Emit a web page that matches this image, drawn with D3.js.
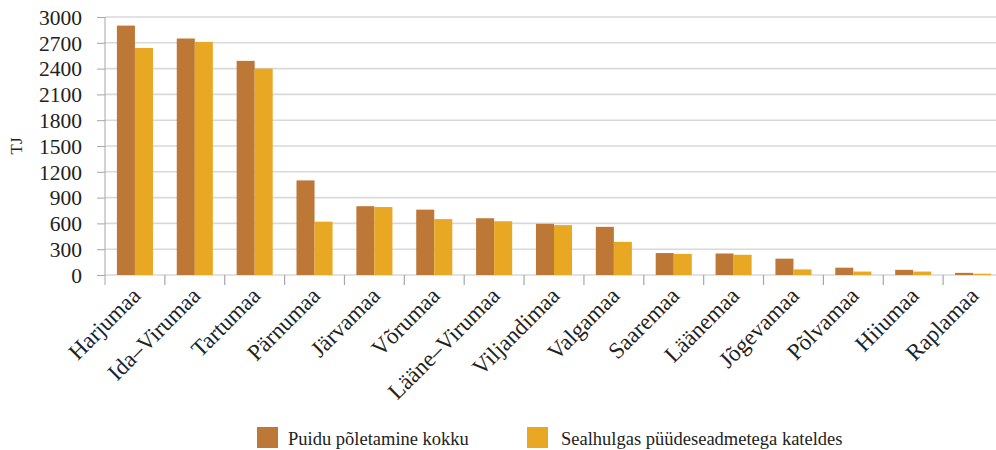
<!DOCTYPE html>
<html>
<head>
<meta charset="utf-8">
<script src="https://cdn.jsdelivr.net/npm/d3@7"></script>
<style>
  body { margin: 0; background: #fff; }
  svg text { font-family: 'Liberation Serif', 'Times New Roman', serif; fill: #222; }
</style>
</head>
<body>
<div id="chart"></div>
<script>
const counties = ['Harjumaa', 'Ida-Virumaa', 'Tartumaa', 'Pärnumaa', 'Järvamaa', 'Võrumaa',
  'Lääne-Virumaa', 'Viljandimaa', 'Valgamaa', 'Saaremaa', 'Läänemaa', 'Jõgevamaa',
  'Põlvamaa', 'Hiiumaa', 'Raplamaa'];
const seriesNames = ['Puidu põletamine kokku', 'Sealhulgas püüdeseadmetega kateldes'];
const totalBurned = [2900, 2750, 2490, 1100, 800, 760, 660, 595, 560, 255, 250, 190, 85, 60, 25];
const withFilters = [2640, 2710, 2400, 620, 790, 650, 625, 580, 385, 245, 235, 65, 40, 40, 15];
const yTicks = [0, 300, 600, 900, 1200, 1500, 1800, 2100, 2400, 2700, 3000];
const colors = ['#bd7736', '#e9a823'];

const size = { width: 996, height: 450 };
const margin = { left: 105, top: 17, right: -7, bottom: 175 };
const serif = "'Liberation Serif', 'Times New Roman', serif";

const svg = d3.select('#chart').append('svg')
  .attr('width', size.width)
  .attr('height', size.height)
  .attr('font-family', serif);

const x = d3.scaleBand()
  .domain(counties)
  .range([margin.left, size.width - margin.right])
  .padding(0);

const x1 = d3.scaleBand()
  .domain(seriesNames)
  .range([0, x.bandwidth()])
  .paddingInner(0)
  .paddingOuter(0.66);

const y = d3.scaleLinear()
  .domain([0, 3000])
  .range([size.height - margin.bottom, margin.top]);

// gridlines
svg.append('g')
  .selectAll('line')
  .data(yTicks)
  .join('line')
  .attr('x1', margin.left)
  .attr('x2', size.width)
  .attr('y1', (d) => y(d))
  .attr('y2', (d) => y(d))
  .attr('stroke', '#d9d9d9')
  .attr('stroke-width', 1.6);

// bars
const rows = counties.map((c, i) => ({ county: c, values: [totalBurned[i], withFilters[i]] }));
const groups = svg.append('g')
  .selectAll('g')
  .data(rows)
  .join('g')
  .attr('transform', (d) => `translate(${x(d.county)},0)`);

groups.selectAll('rect')
  .data((d) => d.values.map((v, j) => ({ key: seriesNames[j], value: v, j })))
  .join('rect')
  .attr('x', (d) => x1(d.key))
  .attr('width', x1.bandwidth())
  .attr('y', (d) => y(d.value))
  .attr('height', (d) => y(0) - y(d.value))
  .attr('fill', (d) => colors[d.j]);

// y axis
const yAxis = svg.append('g')
  .attr('transform', `translate(${margin.left},0)`)
  .call(d3.axisLeft(y).tickValues(yTicks).tickFormat(d3.format('d'))
    .tickSize(8).tickPadding(15).tickSizeOuter(0));
yAxis.attr('font-family', null).attr('font-size', null);
yAxis.select('.domain').attr('stroke', '#a6a6a6').attr('d', `M0,${margin.top}V${y(0) + 10}`);
yAxis.selectAll('.tick line').attr('stroke', '#a6a6a6');
yAxis.selectAll('.tick text')
  .attr('dy', '0.34em')
  .style('font-size', '21.5px')
  .attr('fill', '#222');

// x ticks at category boundaries
const bounds = [...counties.map((c) => x(c)), x(counties[counties.length - 1]) + x.bandwidth()];
svg.append('g')
  .selectAll('line')
  .data(bounds.slice(1))
  .join('line')
  .attr('x1', (d) => d)
  .attr('x2', (d) => d)
  .attr('y1', y(0))
  .attr('y2', y(0) + 10)
  .attr('stroke', '#a6a6a6')
  .attr('stroke-width', 1.2);

// x labels
svg.append('g')
  .selectAll('text')
  .data(counties)
  .join('text')
  .attr('transform', (d) => `translate(${x(d) + x.bandwidth() / 2 + 7},${y(0) + 22}) rotate(-45)`)
  .attr('text-anchor', 'end')
  .style('font-size', '23px')
  .text((d) => d.replace('-', '–'));

// y title
svg.append('text')
  .attr('transform', `translate(22,${(y(0) + y(3000)) / 2}) rotate(-90)`)
  .attr('text-anchor', 'middle')
  .style('font-size', '17px')
  .text('TJ');

// legend
const legendX = [257, 527];
const legend = svg.append('g')
  .selectAll('g')
  .data(seriesNames)
  .join('g')
  .attr('transform', (d, i) => `translate(${legendX[i]},427)`);
legend.append('rect')
  .attr('width', 21)
  .attr('height', 21)
  .attr('fill', (d, i) => colors[i]);
legend.append('text')
  .attr('x', (d, i) => (i === 0 ? 31 : 34))
  .attr('y', 18)
  .style('font-size', '18.5px')
  .text((d) => d);
</script>
</body>
</html>
